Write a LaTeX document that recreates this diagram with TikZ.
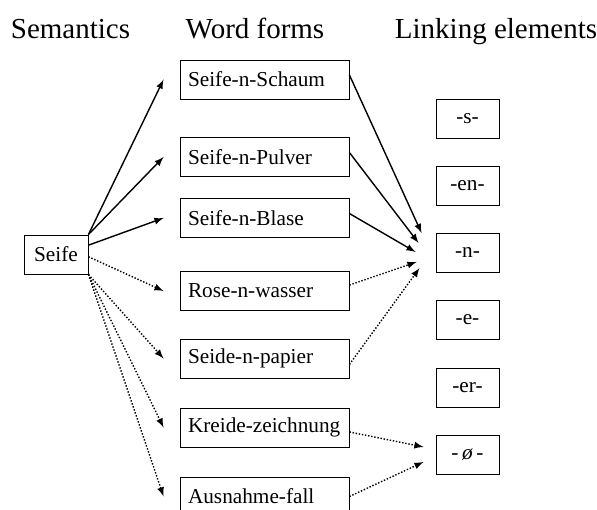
\documentclass[tikz,border=0pt]{standalone}
\usepackage{fontspec}
\setmainfont{Liberation Serif}
\usepackage{tikz}
\usetikzlibrary{arrows}

\newcommand{\wordfont}{\fontsize{12.1}{14}\selectfont}
\newcommand{\headfont}{\fontsize{16.5}{20}\selectfont}

\begin{document}
\begin{tikzpicture}[
				word style/.style={
					draw,
					line width=0.5pt,
					align=left,
					text width=3.06cm,
					inner xsep=0.16cm,
					minimum height=0.78cm,
					font=\wordfont
				},
				link style/.style={
					draw,
					line width=0.5pt,
					align=center,
					minimum width=1.26cm,
					minimum height=0.78cm,
					font=\wordfont
				},
				head style/.style={
					anchor=base,
					inner sep=0pt,
					font=\headfont
				},
				solid arrow/.style={->, line width=0.8pt},
				dotted arrow/.style={->, line width=0.8pt, densely dotted},
				>=latex
				]
				
				\useasboundingbox (0,0) rectangle (11.94,10.2);
				
				\node[head style] (head1) at (1.41,9.42) {Semantics};
				\node[head style] (head2) at (5.10,9.42) {Word forms};
				\node[head style] (head3) at (9.92,9.42) {Linking elements};
				
				\node[link style, minimum width=1.28cm] (sem1) at (1.12,5.11) {Seife};
				
				\node[word style] (word1) at (5.29,8.61) {Seife-n-Schaum};
				\node[word style] (word2) at (5.29,7.06) {Seife-n-Pulver};
				\node[word style] (word3) at (5.29,5.84) {Seife-n-Blase};
				\node[word style] (word4) at (5.29,4.38) {Rose-n-wasser};
				\node[word style] (word5) at (5.29,3.03) {Seide-n-papier};
				\node[word style] (word6) at (5.29,1.65) {Kreide-zeichnung};
				\node[word style] (word7) at (5.29,0.27) {Ausnahme-fall};
				
				\node[link style] (link1) at (9.35,7.83) {-s-};
				\node[link style] (link2) at (9.35,6.48) {-en-};
				\node[link style] (link3) at (9.35,5.14) {-n-};
				\node[link style] (link4) at (9.35,3.80) {-e-};
				\node[link style] (link5) at (9.35,2.45) {-er-};
				\node[link style] (link6) at (9.35,1.11) {-\,\textit{ø}\,-};
				
				
				\draw[solid arrow] (sem1.north east) -- ([xshift=-0.32cm]word1.west);
				\draw[solid arrow] (sem1.north east) -- ([xshift=-0.32cm]word2.west);
				\draw[solid arrow] (sem1.16) -- ([xshift=-0.32cm]word3.west);
				\draw[dotted arrow] (sem1.-4) -- ([xshift=-0.32cm]word4.west);
				\draw[dotted arrow] (sem1.south east) -- ([xshift=-0.32cm]word5.west);
				\draw[dotted arrow] (sem1.south east) -- ([xshift=-0.32cm]word6.west);
				\draw[dotted arrow] (sem1.south east) -- ([xshift=-0.32cm]word7.west);
				
				\draw[solid arrow] (word1.3) -- ([shift={(-0.28,0.40)}]link3.west);
				\draw[solid arrow] (word2.3) -- ([shift={(-0.34,0.20)}]link3.west);
				\draw[solid arrow] (word3.3) -- ([shift={(-0.40,0.02)}]link3.west);
				\draw[dotted arrow] (word4.4) -- ([shift={(-0.38,-0.18)}]link3.west);
				\draw[dotted arrow] (word5.-4) -- ([shift={(-0.32,-0.30)}]link3.west);
				\draw[dotted arrow] (word6.-3) -- ([shift={(-0.24,0.15)}]link6.west);
				\draw[dotted arrow] (word7.east) -- ([shift={(-0.24,-0.15)}]link6.west);
				
			\end{tikzpicture}
\end{document}
